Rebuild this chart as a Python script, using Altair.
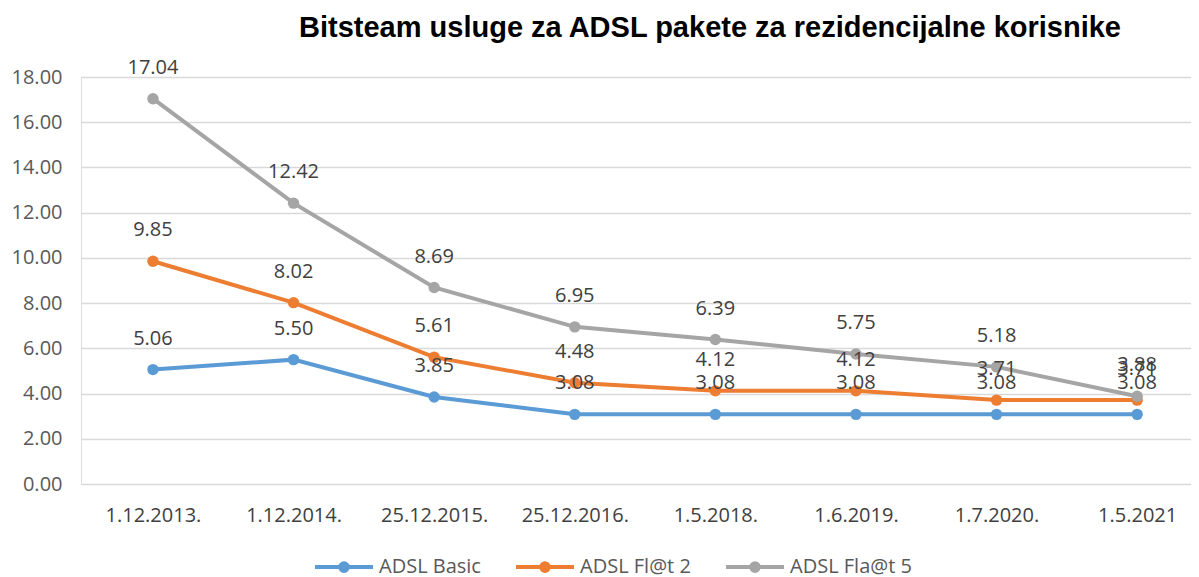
import altair as alt
import pandas as pd

dates = ["1.12.2013.", "1.12.2014.", "25.12.2015.", "25.12.2016.",
         "1.5.2018.", "1.6.2019.", "1.7.2020.", "1.5.2021"]
series = ["ADSL Basic", "ADSL Fl@t 2", "ADSL Fla@t 5"]
basic = [5.06, 5.50, 3.85, 3.08, 3.08, 3.08, 3.08, 3.08]
flat2 = [9.85, 8.02, 5.61, 4.48, 4.12, 4.12, 3.71, 3.71]
flat5 = [17.04, 12.42, 8.69, 6.95, 6.39, 5.75, 5.18, 3.88]
colors = ["#5B9BD5", "#ED7D31", "#A5A5A5"]
y_ticks = [0, 2, 4, 6, 8, 10, 12, 14, 16, 18]
title_text = "Bitsteam usluge za ADSL pakete za rezidencijalne korisnike"

rows = []
for s, vals in zip(series, [basic, flat2, flat5]):
    for d, v in zip(dates, vals):
        rows.append({"date": d, "series": s, "value": v, "label": f"{v:.2f}"})
df = pd.DataFrame(rows)

x = alt.X("date:N", sort=dates,
          scale=alt.Scale(type="point", padding=0.4474, align=0.572),
          axis=alt.Axis(title=None, labelAngle=0, ticks=False, tickSize=0, domain=False, grid=False,
                        labelFont="Open Sans", labelFontSize=20, labelColor="#404040",
                        labelPadding=31, labelBaseline="middle"))
y = alt.Y("value:Q", scale=alt.Scale(domain=[0, 18]),
          axis=alt.Axis(title=None, values=y_ticks, format=".2f", ticks=False, tickSize=0, domain=False,
                        grid=True, gridColor="#D9D9D9", gridWidth=1.5,
                        labelFont="Open Sans", labelFontSize=20, labelColor="#595959",
                        labelPadding=19))

legend_path = ("M-1,0L1,0"
               "M0.13,0A0.13,0.13,0,1,1,-0.13,0A0.13,0.13,0,1,1,0.13,0"
               "M0.06,0A0.06,0.06,0,1,1,-0.06,0A0.06,0.06,0,1,1,0.06,0")
color = alt.Color("series:N", scale=alt.Scale(domain=series, range=colors),
                  legend=alt.Legend(title=None, orient="none", legendX=232, legendY=459,
                                    direction="horizontal", symbolType=legend_path,
                                    symbolSize=3364, symbolStrokeWidth=4,
                                    labelFont="Open Sans", labelFontSize=20, labelColor="#595959",
                                    labelOffset=4, columnPadding=27))

base = alt.Chart(df)
lines = base.mark_line(strokeWidth=4).encode(x=x, y=y, color=color)
points = base.mark_circle(size=130, opacity=1).encode(x=x, y=y, color=color)
labels = base.mark_text(dy=-31, font="Open Sans", fontSize=20, color="#404040",
                        baseline="middle").encode(x=x, y=y, text="label:N")

title = alt.Chart(pd.DataFrame({"t": [title_text]})).mark_text(
    font="Liberation Sans", fontSize=29, fontWeight="bold", color="black",
    align="center", baseline="middle"
).encode(text="t:N", x=alt.value(629), y=alt.value(-49))

chart = alt.layer(lines, points, labels, title).properties(
    width=1110, height=407,
    autosize=alt.AutoSizeParams(type="none"),
    padding={"left": 73, "top": 69, "right": 0, "bottom": 93},
).configure_view(stroke=None).configure(background="white")

chart.save("out.html", embed_options={"renderer": "svg", "actions": False})
